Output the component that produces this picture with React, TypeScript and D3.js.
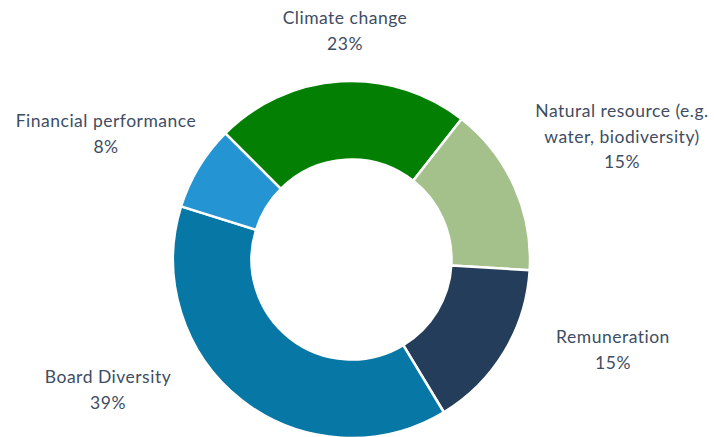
import { useEffect, useRef } from 'react';
import * as d3 from 'd3';

const categories = [
	'Climate change',
	'Natural resource (e.g. water, biodiversity)',
	'Remuneration',
	'Board Diversity',
	'Financial performance',
];
// slice sizes (the labels below carry the rounded shares)
const counts = [6, 4, 4, 10, 2];
const shareLabels = ['23%', '15%', '15%', '39%', '8%'];
const colors = ['#038003', '#A5C18B', '#243D5A', '#0778A5', '#2495D2'];
const nameLines = [
	['Climate change'],
	['Natural resource (e.g.', 'water, biodiversity)'],
	['Remuneration'],
	['Board Diversity'],
	['Financial performance'],
];
// centre x, first baseline y of each label block
const labelPos: [number, number][] = [
	[345, 24],
	[622, 117],
	[613, 343],
	[108, 383],
	[106, 127],
];

const W = 714;
const H = 437;

const App: React.FC = () => {
	const svgRef = useRef<SVGSVGElement>(null);

	useEffect(() => {
		if (!svgRef.current) return;
		const svg = d3.select(svgRef.current);
		svg.selectAll('*').remove();

		const cx = 351.5;
		const cy = 259.5;
		const outer = 178.5;
		const inner = 100;

		const pie = d3
			.pie<number>()
			.sort(null)
			.value((d) => d)
			.startAngle(-Math.PI / 4)
			.endAngle(-Math.PI / 4 + 2 * Math.PI);

		const arc = d3
			.arc<d3.PieArcDatum<number>>()
			.innerRadius(inner)
			.outerRadius(outer);

		const g = svg.append('g').attr('transform', `translate(${cx},${cy})`);

		g.selectAll('path')
			.data(pie(counts))
			.join('path')
			.attr('d', arc)
			.attr('fill', (_, i) => colors[i])
			.attr('stroke', '#fff')
			.attr('stroke-width', 2.5)
			.attr('stroke-linejoin', 'round');

		const labels = svg
			.append('g')
			.style('font-family', 'Lato, "Open Sans", sans-serif')
			.style('font-size', '17.5px')
			.style('letter-spacing', '0.5px')
			.style('fill', '#3E4D63');

		categories.forEach((_, i) => {
			const [x, y] = labelPos[i];
			const t = labels
				.append('text')
				.attr('x', x)
				.attr('y', y)
				.attr('text-anchor', 'middle');
			[...nameLines[i], shareLabels[i]].forEach((line, j) => {
				t.append('tspan')
					.attr('x', x)
					.attr('dy', j === 0 ? 0 : 25.5)
					.text(line);
			});
		});
	}, []);

	return (
		<svg
			ref={svgRef}
			width={W}
			height={H}
			style={{ position: 'absolute', left: 0, top: 0, background: '#fff' }}
		></svg>
	);
};

export default App;
